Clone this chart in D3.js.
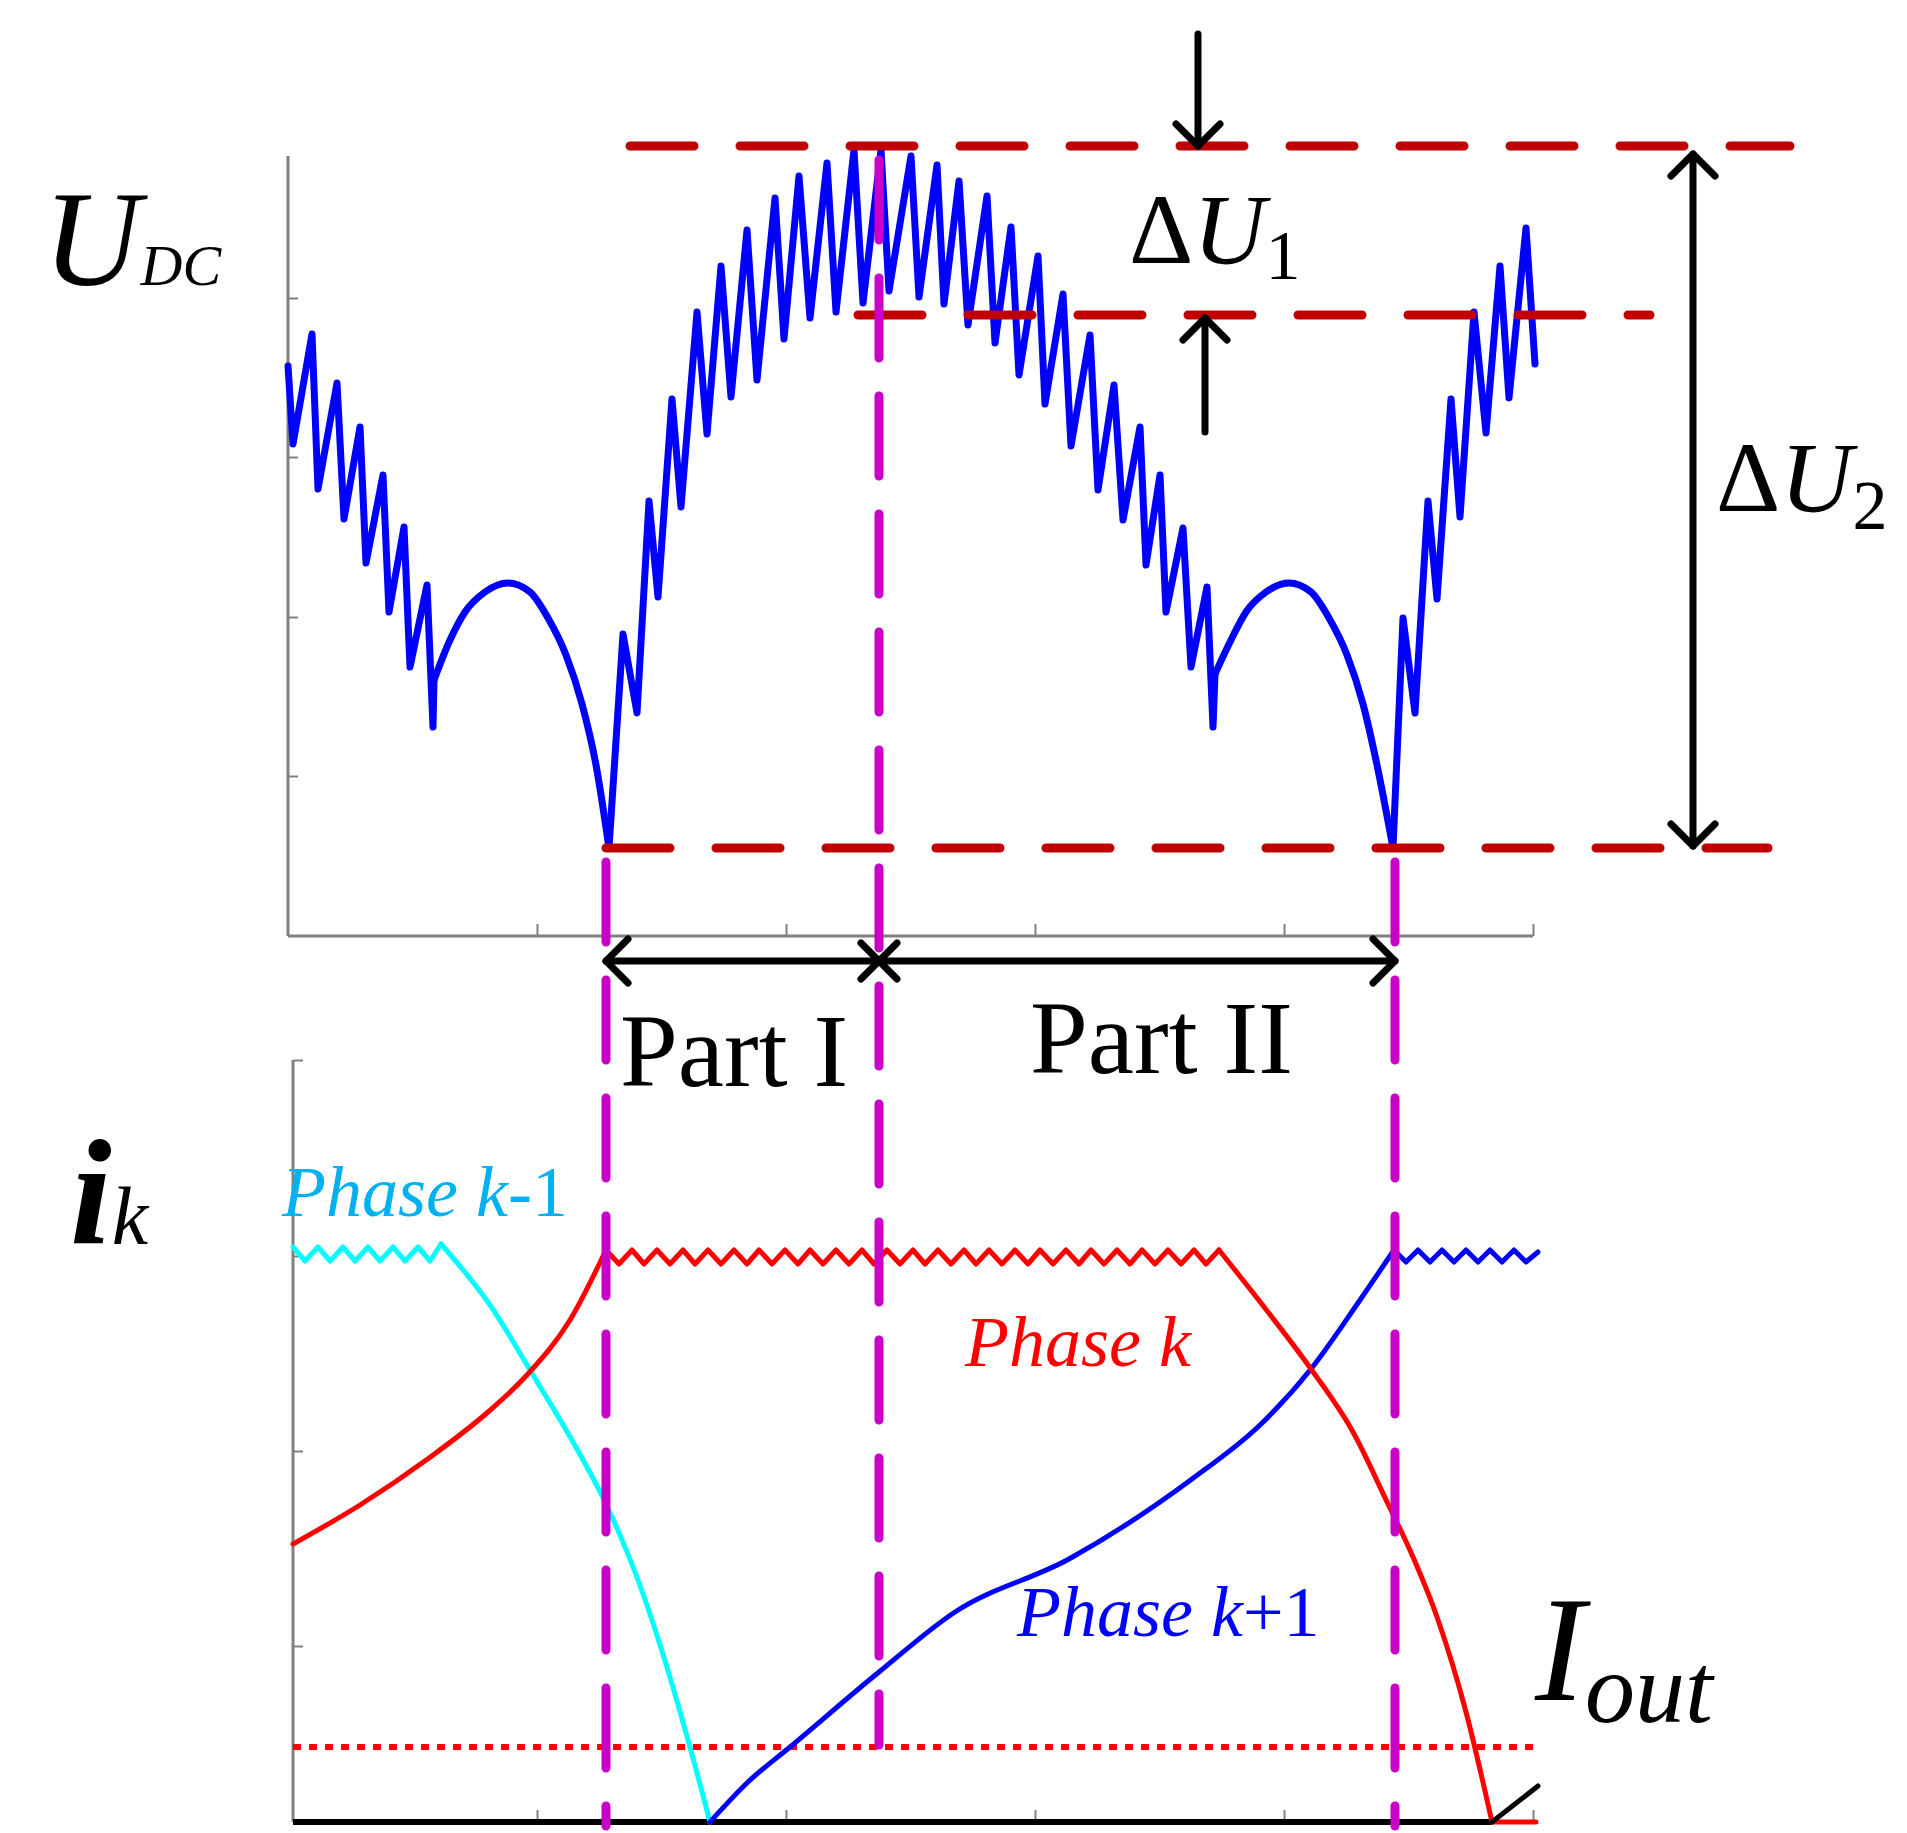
<!DOCTYPE html>
<html>
<head>
<meta charset="utf-8">
<script src="https://cdn.jsdelivr.net/npm/d3@7"></script>
<style>
  body { margin: 0; background: #fff; }
  text { font-family: "Liberation Serif", "Times New Roman", Times, serif; }
</style>
</head>
<body>
<svg id="chart" width="1907" height="1833"></svg>
<script>
// U_DC waveform (time units, voltage units)
var udc_saw1 = [[0,570],[5,492],[24,602],[30,447],[49,553],[56,417],[72,509],[78,373],[95,461],[101,324],
	[116,409],[122,269],[139,351],[145,209],[146,256]]
var udc_arc1 = [[146,256],[162,296],[177,324],[197,344],[220,353],[242,344],
	[260,318],[278,281],[294,232],[308,171],[321,88]]
var udc_saw2 = [[321,88],[335,302],[349,223],[361,435],[370,339],[384,537],
	[393,429],[409,624],[419,502],[433,670],[443,539],[459,706],[469,556],[487,738],[496,597],[511,760],
	[522,618],[539,773],[548,624],[566,786],[575,633],[593,786],[601,645],[623,780],[631,639],[649,771],
	[656,632],[671,755],[680,611],[699,740],[707,593],[723,709],[731,561],[750,680],[757,532],[775,642],
	[783,490],[802,601],[810,446],[826,551],[835,416],[852,509],[858,371],[872,461],[878,324],[895,408],
	[903,269],[919,349],[925,209],[927,262]]
var udc_arc2 = [[927,262],[943,296],[958,324],[978,344],[1001,353],[1023,344],[1041,318],
	[1059,281],[1075,232],[1089,171],[1105,88]]
var udc_saw3 = [[1105,88],[1115,318],[1127,223],[1140,435],[1149,337],[1163,537],
	[1172,419],[1186,624],[1198,503],[1212,670],[1221,538],[1238,708],[1247,572]]
var udc_levels = {max: 790, mid: 621, min: 88}
var udc_yticks = [160, 319, 479, 638]
var x_ticks = [249, 498, 747, 996, 1245]

// phase currents
var phase_km1 = [[5,575],[17,561],[30,575],[42,561],[55,575],[67,561],[80,575],[92,561],[105,575],[117,561],
	[130,575],[142,561],[153,578]]
var phase_km1_fall = [[153,578],[202,517],[245,447],[285,380],[318,318],[350,242],[373,174],[400,82],[422,0]]
var phase_k_rise = [[5,278],[72,317],[141,364],[200,410],[239,447],[282,502],[318,572]]
var phase_k = [[318,572],[331,558],[344,572],[356,558],[369,572],
	[382,558],[395,572],[407,558],[420,572],[433,558],[446,572],[459,558],[471,572],[484,558],[497,572],
	[510,558],[522,572],[535,558],[548,572],[561,558],[574,572],[586,558],[599,572],[612,558],[625,572],
	[637,558],[650,572],[663,558],[676,572],[688,558],[701,572],[714,558],[727,572],[740,558],[752,572],
	[765,558],[778,572],[791,558],[803,572],[816,558],[829,572],[842,558],[854,572],[867,558],[880,572],
	[893,558],[906,572],[918,558],[931,572]]
var phase_k_fall = [[931,572],[980,510],[1023,453],[1065,390],[1100,318],[1125,265],[1149,205],[1178,110],[1204,0]]
var phase_k_tail = [[1204,0],[1248,0]]
var phase_kp1_rise = [[422,0],[460,40],[502,75],[591,150],[667,210],[781,263],[904,343],[972,397],[1023,453],
	[1072,522],[1106,572]]
var phase_kp1 = [[1106,572],[1118,560],[1130,572],[1142,560],[1154,572],[1166,560],[1178,572],[1190,560],[1202,572],
	[1214,560],[1226,572],[1238,560],[1250,570]]
var i_out_level = 75
var i_out_tail = [[1204,0],[1250,36]]
var i_yticks = [176, 371, 566, 762]

// boundaries of Part I / Part II (time units)
var t_parts = [318, 591, 1107]

var svg = d3.select('#chart')

var x = d3.scaleLinear().domain([0,1245]).range([288,1533])
var yU = d3.scaleLinear().domain([0,780]).range([936,156])
var yI = d3.scaleLinear().domain([0,762]).range([1822,1060])

var grey = '#808080', darkred = '#c00000', magenta = '#c800c8'

// ---- top axes
svg.append('g')
	.attr('transform','translate('+x(0)+',0)')
	.call(d3.axisLeft(yU).tickValues(udc_yticks).tickSize(-10).tickFormat(''))
	.call(function(g){
		g.select('.domain').attr('stroke',grey).attr('stroke-width',3).attr('d','M0,'+yU(780)+'V'+yU(0))
		g.selectAll('line').attr('stroke',grey).attr('stroke-width',2)
	})
svg.append('g')
	.attr('transform','translate(0,'+yU(0)+')')
	.call(d3.axisBottom(x).tickValues(x_ticks).tickSize(-12).tickFormat(''))
	.call(function(g){
		g.select('.domain').attr('stroke',grey).attr('stroke-width',3).attr('d','M'+x(0)+',0H'+x(1245))
		g.selectAll('line').attr('stroke',grey).attr('stroke-width',2)
	})

// ---- bottom axes
svg.append('g')
	.attr('transform','translate('+(x(0)+5)+',0)')
	.call(d3.axisLeft(yI).tickValues(i_yticks).tickSize(-10).tickFormat(''))
	.call(function(g){
		g.select('.domain').attr('stroke',grey).attr('stroke-width',3).attr('d','M0,'+yI(762)+'V'+yI(0))
		g.selectAll('line').attr('stroke',grey).attr('stroke-width',2)
	})
svg.append('g')
	.attr('transform','translate(0,'+yI(0)+')')
	.call(d3.axisBottom(x).tickValues(x_ticks).tickSize(-12).tickFormat(''))
	.call(function(g){
		g.select('.domain').remove()
		g.selectAll('line').attr('stroke',grey).attr('stroke-width',2)
	})
svg.append('line')
	.attr('x1',x(0)+5).attr('x2',x(1204))
	.attr('y1',yI(0)).attr('y2',yI(0))
	.attr('stroke','#000').attr('stroke-width',6)

// ---- U_DC curve
function drawLine(data, yScale, curve, color, width){
	var ln = d3.line()
		.x(function(d){ return x(d[0]) })
		.y(function(d){ return yScale(d[1]) })
		.curve(curve)
	svg.append('path')
		.datum(data)
		.attr('d',ln)
		.attr('fill','none')
		.attr('stroke',color)
		.attr('stroke-width',width)
		.attr('stroke-linejoin','round')
		.attr('stroke-linecap','round')
}
var lin = d3.curveLinear, smooth = d3.curveMonotoneX
drawLine(udc_saw1, yU, lin, '#0000ff', 7)
drawLine(udc_arc1, yU, smooth, '#0000ff', 7)
drawLine(udc_saw2, yU, lin, '#0000ff', 7)
drawLine(udc_arc2, yU, smooth, '#0000ff', 7)
drawLine(udc_saw3, yU, lin, '#0000ff', 7)

// ---- phase currents
svg.append('line')
	.attr('x1',x(0)+5).attr('x2',x(1250))
	.attr('y1',yI(i_out_level)).attr('y2',yI(i_out_level))
	.attr('stroke','#ff0000').attr('stroke-width',6)
	.attr('stroke-dasharray','8,8')
drawLine(phase_km1, yI, lin, '#00ffff', 5)
drawLine(phase_km1_fall, yI, smooth, '#00ffff', 5)
drawLine(phase_kp1_rise, yI, smooth, '#0000ff', 5)
drawLine(phase_kp1, yI, lin, '#0000ff', 5)
drawLine(phase_k_rise, yI, smooth, '#ff0000', 5)
drawLine(phase_k, yI, lin, '#ff0000', 5)
drawLine(phase_k_fall, yI, smooth, '#ff0000', 5)
drawLine(phase_k_tail, yI, lin, '#ff0000', 5)
drawLine(i_out_tail, yI, lin, '#000', 5)

// ---- level lines (dark red dashed)
function hdash(y, x1, x2){
	svg.append('line')
		.attr('x1',x1).attr('x2',x2).attr('y1',y).attr('y2',y)
		.attr('stroke',darkred).attr('stroke-width',9)
		.attr('stroke-linecap','round')
		.attr('stroke-dasharray','64,46')
}
hdash(yU(udc_levels.max), 630, 1790)
hdash(yU(udc_levels.mid), 858, 1650)
hdash(yU(udc_levels.min), 606, 1768)

// ---- part boundaries (magenta dashed)
function vdash(xp, y1, y2){
	svg.append('line')
		.attr('x1',xp).attr('x2',xp).attr('y1',y1).attr('y2',y2)
		.attr('stroke',magenta).attr('stroke-width',9)
		.attr('stroke-linecap','round')
		.attr('stroke-dasharray','80,38')
}
vdash(x(t_parts[0]), yU(udc_levels.min)+14, 1826)
vdash(x(t_parts[1]), 160, 1745)
vdash(x(t_parts[2]), yU(udc_levels.min)+14, 1826)

// ---- arrows
function seg(x1,y1,x2,y2){
	svg.append('line')
		.attr('x1',x1).attr('y1',y1).attr('x2',x2).attr('y2',y2)
		.attr('stroke','#000').attr('stroke-width',7)
		.attr('stroke-linecap','round')
}
function head(xp, yp, dir){
	var a = 22
	var p = {up:[[-a,a],[a,a]], down:[[-a,-a],[a,-a]], left:[[a,-a],[a,a]], right:[[-a,-a],[-a,a]]}[dir]
	svg.append('path')
		.attr('d','M'+(xp+p[0][0])+','+(yp+p[0][1])+'L'+xp+','+yp+'L'+(xp+p[1][0])+','+(yp+p[1][1]))
		.attr('fill','none').attr('stroke','#000').attr('stroke-width',7)
		.attr('stroke-linecap','round').attr('stroke-linejoin','round')
}
var yMax = yU(udc_levels.max), yMid = yU(udc_levels.mid), yMin = yU(udc_levels.min)
seg(1198, 34, 1198, yMax); head(1198, yMax, 'down')
seg(1205, 432, 1205, yMid+3); head(1205, yMid+3, 'up')
seg(1693, yMax+8, 1693, yMin-2); head(1693, yMax+8, 'up'); head(1693, yMin-2, 'down')

var yArr = 961
seg(x(t_parts[0]), yArr, x(t_parts[2]), yArr)
head(x(t_parts[0]), yArr, 'left')
head(x(t_parts[2]), yArr, 'right')
seg(x(t_parts[1])-18, yArr-18, x(t_parts[1])+18, yArr+18)
seg(x(t_parts[1])-18, yArr+18, x(t_parts[1])+18, yArr-18)

// ---- labels
function label(xp, yp, parts, color){
	var t = svg.append('text').attr('x',xp).attr('y',yp).attr('fill',color || '#000')
	parts.forEach(function(p){
		var ts = t.append('tspan').text(p.t).attr('font-size',p.s)
		if (p.i) ts.attr('font-style','italic')
		if (p.b) ts.attr('font-weight','bold')
		if (p.dy) ts.attr('dy',p.dy)
		if (p.dx) ts.attr('dx',p.dx)
	})
}
label(43, 285, [{t:'U',s:135,i:1},{t:'DC',s:58,i:1}])
label(1129, 263, [{t:'\u0394',s:100},{t:'U',s:100,i:1},{t:'1',s:70,dy:16}])
label(1716, 511, [{t:'\u0394',s:100},{t:'U',s:100,i:1},{t:'2',s:70,dy:18}])
label(620, 1086, [{t:'Part I',s:104}])
label(1030, 1073, [{t:'Part II',s:104}])
label(70, 1244, [{t:'i',s:150,i:1,b:1},{t:'k',s:82,i:1}])
label(282, 1216, [{t:'Phase ',s:72,i:1},{t:'k',s:72,i:1},{t:'-1',s:72}], '#00b0f0')
label(965, 1366, [{t:'Phase k',s:72,i:1}], '#ff0000')
label(1017, 1636, [{t:'Phase ',s:72,i:1},{t:'k',s:72,i:1},{t:'+1',s:72}], '#0000ff')
label(1535, 1700, [{t:'I',s:150,i:1},{t:'out',s:100,i:1,dy:22}])
</script>
</body>
</html>
